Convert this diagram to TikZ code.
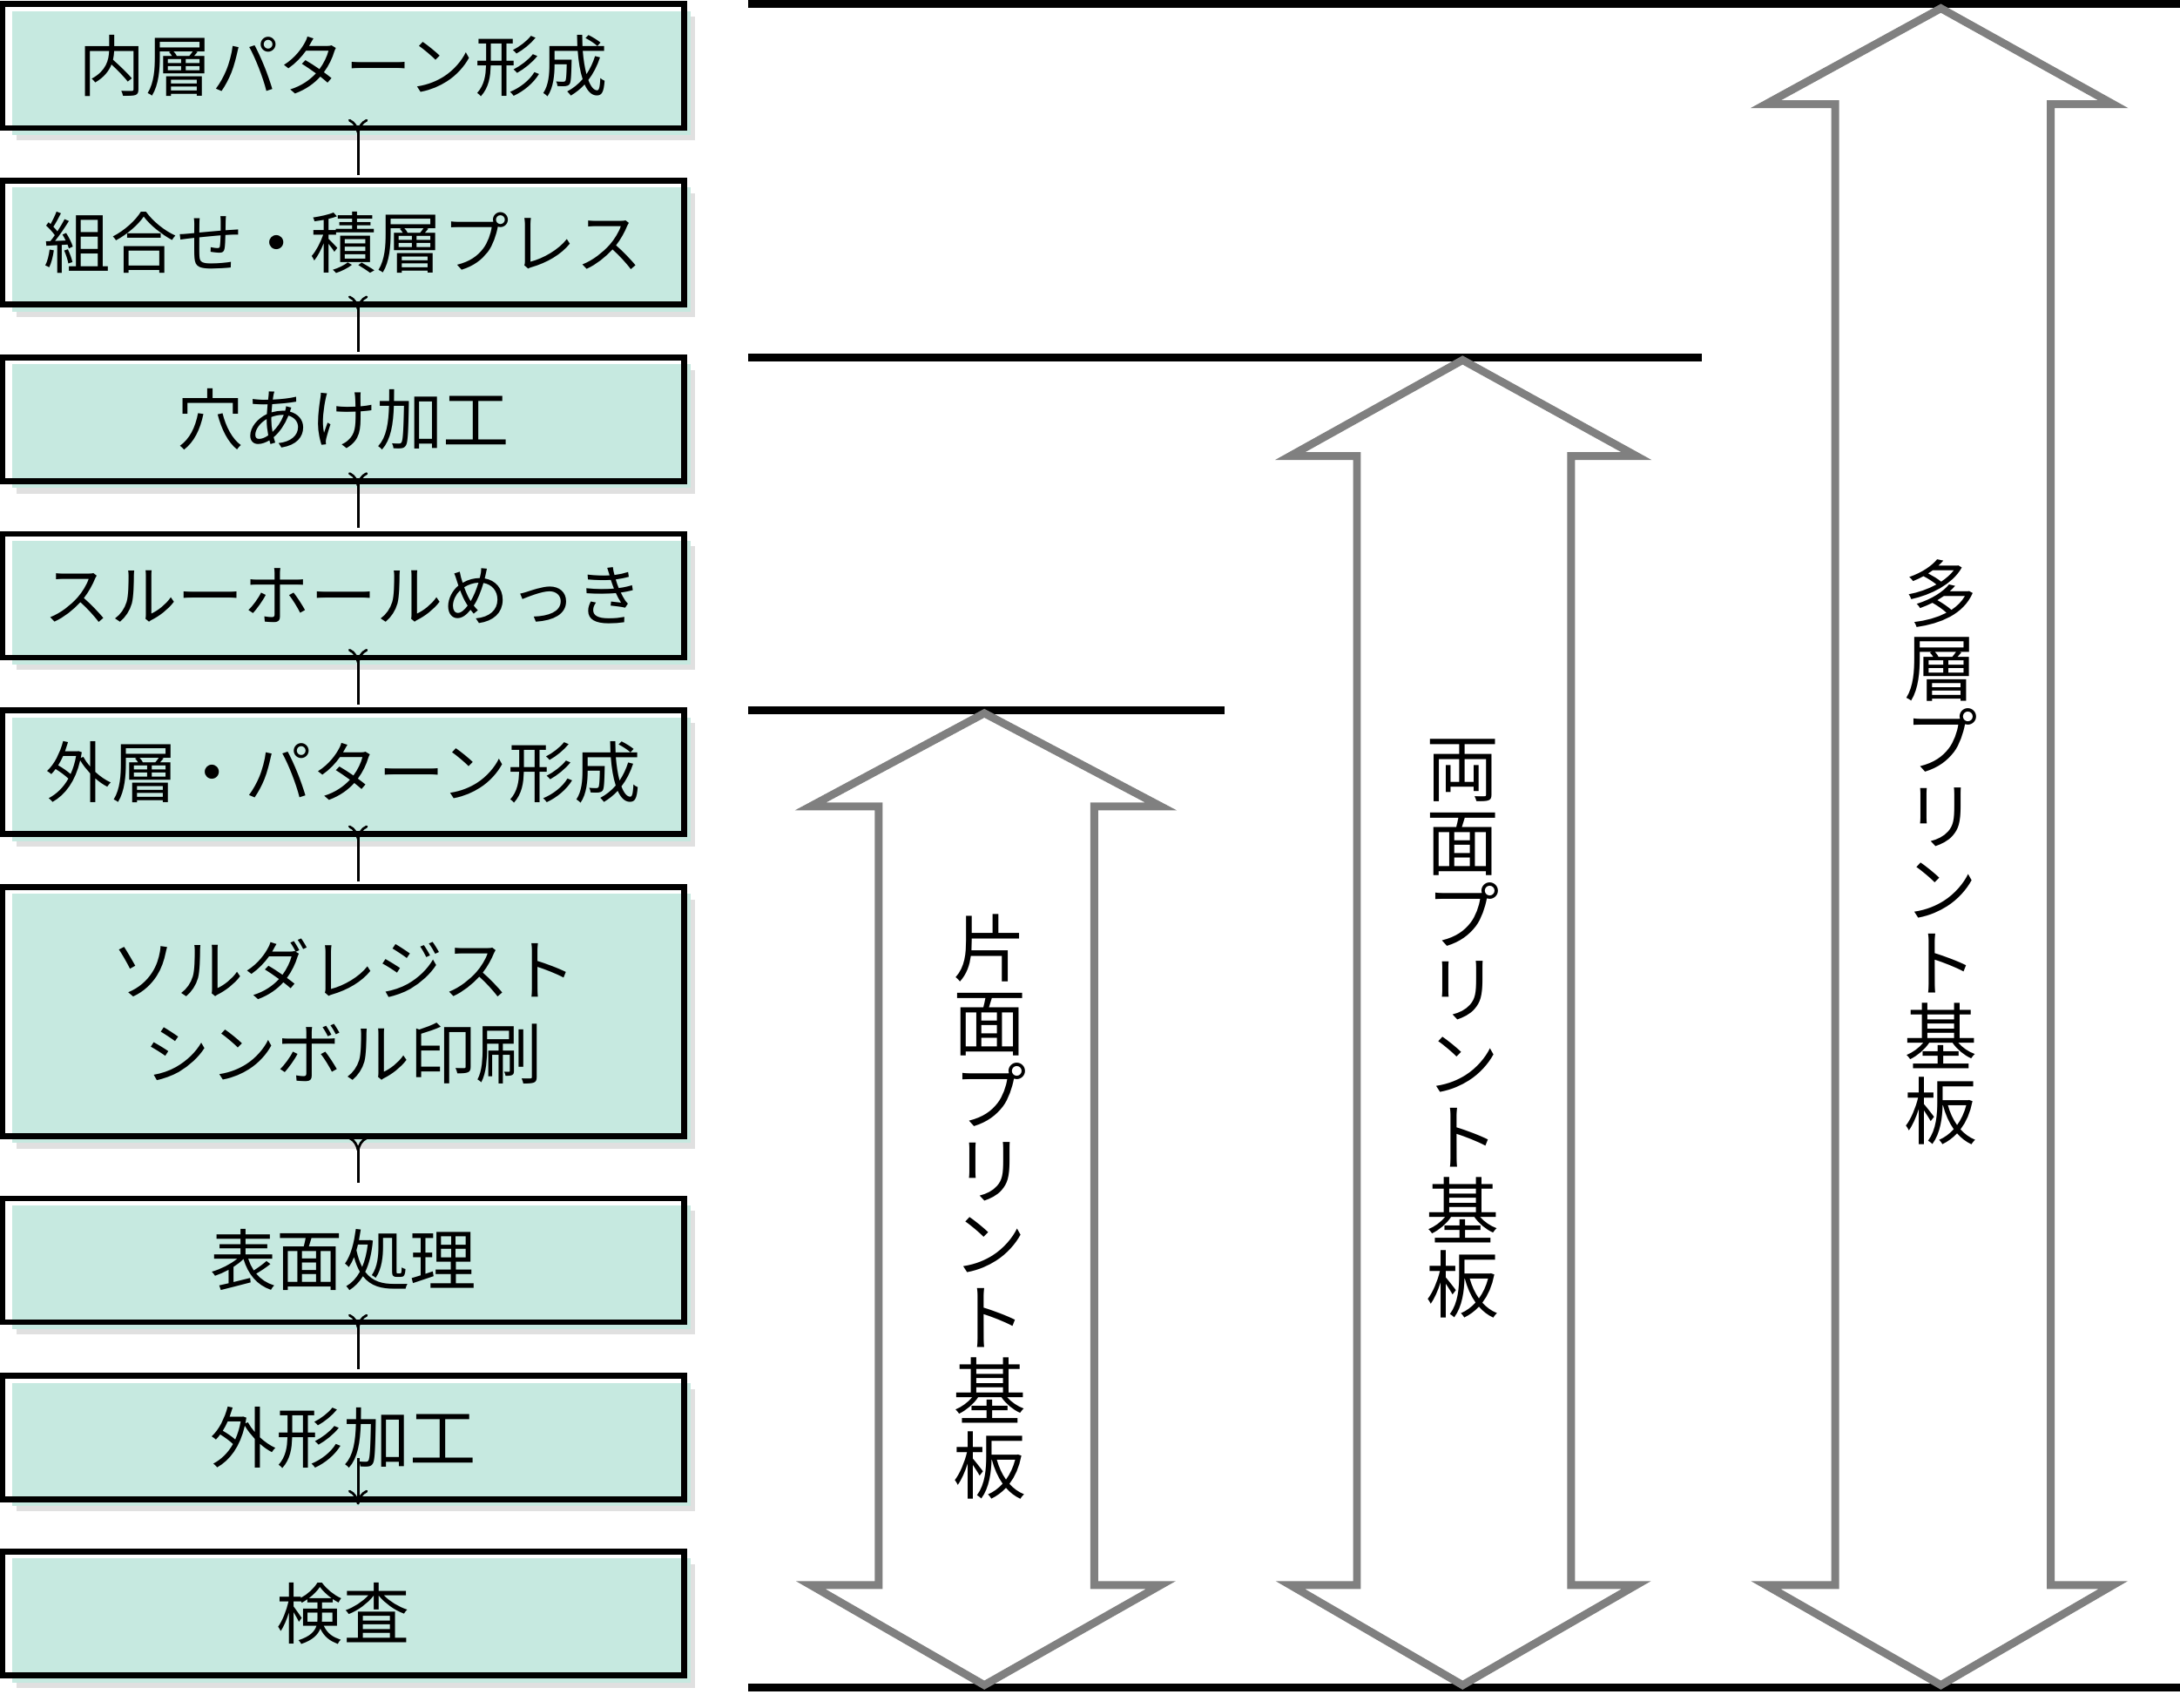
\documentclass[tikz,border=0pt]{standalone}
\usepackage{fontspec}
\setmainfont{Noto Sans CJK JP}
\usetikzlibrary{arrows.meta}
\definecolor{boxfill}{HTML}{C6E9E0}
\definecolor{arrgray}{HTML}{808080}
\begin{document}
\begin{tikzpicture}[x=0.01cm,y=-0.01cm,
  stepbox/.style={draw=black,line width=1.2pt,minimum width=4.9cm,inner sep=0pt,align=center,font=\fontsize{13.6}{17}\selectfont},
  flow/.style={-{To[length=3pt,width=4pt]},line width=0.5pt,shorten <=9pt,shorten >=9pt},
  rule/.style={line width=1.6pt},
  dbl/.style={draw=arrgray,line width=1.6pt,fill=white,line join=miter},
  vlabel/.style={align=center,font=\fontsize{15}{15.1}\selectfont}]
\useasboundingbox (0,0) rectangle (1568,1228);
% fills with shadow
\foreach \t/\b in {3/92,130/219,257/346,384/473,511/600,638/817,862/951,990/1078,1116/1205}{
  \fill[black!12] (12,\t+9) rectangle (500,\b+9);
  \fill[boxfill] (9,\t+5) rectangle (497,\b+5);
}
\node[stepbox,minimum height=0.89cm] (b1) at (247,47.5) {内層パターン形成};
\node[stepbox,minimum height=0.89cm] (b2) at (247,174.5) {組合せ・積層プレス};
\node[stepbox,minimum height=0.89cm] (b3) at (247,301.5) {穴あけ加工};
\node[stepbox,minimum height=0.89cm] (b4) at (247,428.5) {スルーホールめっき};
\node[stepbox,minimum height=0.89cm] (b5) at (247,555.5) {外層・パターン形成};
\node[stepbox,minimum height=1.79cm] (b6) at (247,727.5) {ソルダレジスト\\シンボル印刷};
\node[stepbox,minimum height=0.89cm] (b7) at (247,906.5) {表面処理};
\node[stepbox,minimum height=0.89cm] (b8) at (247,1034) {外形加工};
\node[stepbox,minimum height=0.89cm] (b9) at (247,1160.5) {検査};
\foreach \a/\b in {b1/b2,b2/b3,b3/b4,b4/b5,b5/b6,b6/b7,b7/b8,b8/b9}
  \draw[flow] ([xshift=3]\a.south) -- ([xshift=3]\b.north);
% rules
\coordinate (r1a) at (538,3); \coordinate (r1b) at (1568,3);
\coordinate (r2a) at (538,257); \coordinate (r2b) at (1224,257);
\coordinate (r3a) at (538,511); \coordinate (r3b) at (881,511);
\coordinate (r4a) at (538,1214); \coordinate (r4b) at (1568,1214);
\draw[rule] (r1a)--(r1b); \draw[rule] (r2a)--(r2b); \draw[rule] (r3a)--(r3b); \draw[rule] (r4a)--(r4b);
% double arrows
\draw[dbl] (708,513)--(835,580)--(787,580)--(787,1140)--(835,1140)--(708,1212)--(583,1140)--(632,1140)--(632,580)--(583,580)--cycle;
\draw[dbl] (1052,259)--(1177,328)--(1130,328)--(1130,1140)--(1177,1140)--(1052,1212)--(928,1140)--(976,1140)--(976,328)--(928,328)--cycle;
\draw[dbl] (1396,6)--(1520,75)--(1475,75)--(1475,1140)--(1520,1140)--(1396,1212)--(1270,1140)--(1320,1140)--(1320,75)--(1270,75)--cycle;
\node[vlabel] (v1) at (712,868) {片\\面\\プ\\リ\\ン\\ト\\基\\板};
\node[vlabel] (v2) at (1052,740) {両\\面\\プ\\リ\\ン\\ト\\基\\板};
\node[vlabel] (v3) at (1396,613) {多\\層\\プ\\リ\\ン\\ト\\基\\板};
\end{tikzpicture}
\end{document}
